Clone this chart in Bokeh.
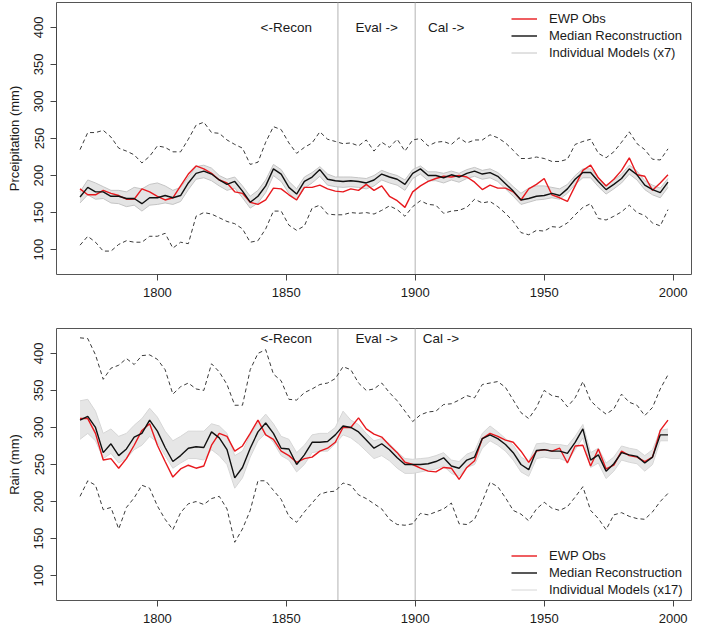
from bokeh.plotting import figure
from bokeh.models import Range1d, Span, Legend, LegendItem, FixedTicker
from bokeh.layouts import column
from bokeh.embed import file_html
from bokeh.resources import INLINE
from bokeh.core.properties import value

years = list(range(1770, 1999, 3))

# ---------- Panel 1: precipitation ----------
precip_obs = [182, 174, 174, 180, 176, 173, 168, 168, 182, 178, 172, 167, 170, 186, 202,
              213, 209, 203, 194, 190, 178, 176, 164, 161, 167, 183, 182, 174, 167, 184,
              184, 187, 182, 179,
              178, 182, 180, 188, 180, 186, 172, 166, 157, 178, 186, 192, 196, 199, 198,
              200, 198, 191, 181,
              187, 183, 183, 178, 167, 182, 188, 196, 174, 170, 165, 186, 207, 214, 197,
              186, 195, 207, 224, 201, 199, 180, 190, 201]
precip_median = [171, 184, 178, 178, 172, 172, 169, 169, 162, 170, 170, 173, 170, 173, 190,
                 203, 206, 202, 194, 188, 192, 179, 164, 172, 186, 209, 202, 184, 175, 192,
                 198, 208, 195, 193,
                 192, 193, 192, 190, 194, 202, 198, 195, 188, 203, 209, 200, 200, 197, 201,
                 198, 203, 206, 202,
                 204, 199, 189, 179, 167, 169, 172, 173, 176, 173, 182, 195, 204, 204, 192,
                 181, 188, 196, 209, 201, 187, 181, 177, 191]
precip_upper = [235, 258, 258, 261, 252, 237, 233, 228, 217, 226, 240, 238, 232, 232, 249,
                268, 272, 258, 257, 248, 242, 237, 215, 218, 245, 266, 262, 244, 230, 238,
                244, 259, 249, 246,
                243, 244, 240, 248, 233, 245, 238, 249, 233, 248, 250, 240, 245, 246, 242,
                251, 244, 248, 248,
                255, 251, 244, 234, 223, 223, 225, 223, 219, 219, 222, 242, 246, 249, 230,
                224, 232, 245, 259, 243, 235, 222, 221, 236]
precip_lower = [106, 118, 110, 98, 98, 107, 112, 110, 110, 118, 118, 122, 102, 110, 108,
                145, 150, 148, 143, 138, 135, 128, 110, 112, 128, 152, 152, 133, 126, 132,
                156, 160, 148, 147,
                147, 150, 149, 150, 148, 153, 159, 154, 145, 158, 166, 161, 160, 149, 152,
                153, 157, 168, 163,
                165, 158, 149, 138, 123, 120, 126, 125, 131, 130, 136, 147, 157, 162, 142,
                140, 145, 151, 160, 150, 146, 136, 132, 154]
precip_models_hi = [178, 194, 190, 185, 180, 180, 178, 184, 182, 188, 190, 186, 180, 184, 198,
                    212, 214, 210, 200, 195, 198, 186, 172, 180, 194, 215, 208, 192, 182, 198,
                    204, 212, 202, 198,
                    198, 198, 197, 196, 200, 207, 203, 200, 194, 208, 213, 205, 205, 203, 206,
                    203, 208, 211, 207,
                    209, 204, 195, 185, 176, 183, 186, 186, 184, 182, 188, 200, 209, 209, 197,
                    187, 194, 202, 214, 206, 193, 187, 183, 196]
precip_models_lo = [163, 174, 168, 169, 163, 162, 158, 160, 152, 160, 161, 163, 161, 165, 181,
                    195, 197, 193, 186, 180, 183, 170, 156, 163, 177, 200, 192, 176, 167, 183,
                    190, 199, 187, 185,
                    184, 185, 184, 182, 186, 194, 190, 187, 180, 196, 202, 193, 193, 190, 194,
                    191, 196, 199, 195,
                    197, 192, 182, 172, 161, 164, 167, 168, 170, 168, 176, 188, 197, 197, 185,
                    175, 182, 190, 202, 194, 181, 174, 170, 184]

# ---------- Panel 2: rain ----------
rain_obs = [312, 312, 292, 256, 258, 245, 258, 276, 296, 305, 276, 254, 233, 244, 249,
            245, 248, 276, 292, 288, 268, 275, 292, 310, 290, 284, 268, 262, 253, 258,
            260, 268, 272, 280,
            300, 300, 313, 298, 291, 287, 276, 266, 253, 250, 245, 241, 240, 246, 245,
            230, 246, 255, 285,
            292, 288, 283, 280, 268, 253, 268, 270, 268, 272, 252, 275, 276, 248, 271,
            244, 249, 268, 262, 260, 254, 260, 296, 310]
rain_median = [310, 315, 300, 266, 278, 262, 271, 287, 292, 310, 295, 273, 254, 262, 272,
               274, 273, 294, 286, 270, 232, 246, 272, 294, 306, 292, 272, 271, 250, 263,
               280, 280, 281, 290,
               302, 300, 294, 283, 272, 278, 270, 259, 250, 250, 250, 251, 254, 259, 248,
               245, 256, 260, 285,
               290, 285, 277, 266, 250, 243, 269, 270, 268, 268, 265, 280, 298, 256, 263,
               241, 251, 266, 263, 261, 252, 260, 290, 290]
rain_upper = [421, 420, 398, 365, 380, 384, 393, 385, 397, 398, 392, 378, 345, 355, 360,
              352, 350, 386, 375, 358, 330, 330, 378, 400, 405, 372, 363, 338, 337, 347,
              352, 358, 360, 366,
              382, 378, 360, 350, 352, 360, 347, 336, 322, 308, 317, 321, 322, 331, 332,
              337, 343, 340, 358,
              360, 362, 354, 337, 320, 312, 327, 350, 343, 341, 328, 340, 362, 336, 326,
              318, 325, 345, 334, 330, 316, 327, 352, 371]
rain_lower = [207, 228, 222, 189, 192, 163, 192, 205, 222, 218, 194, 176, 162, 185, 197,
              200, 196, 204, 207, 190, 145, 163, 188, 228, 228, 215, 203, 180, 172, 186,
              198, 210, 213, 214,
              225, 222, 209, 204, 197, 190, 176, 169, 168, 170, 184, 182, 186, 190, 198,
              170, 169, 176, 200,
              226, 220, 205, 188, 183, 174, 190, 199, 191, 188, 193, 206, 220, 188, 177,
              162, 182, 185, 180, 177, 176, 186, 200, 211]
rain_models_hi = [336, 338, 322, 292, 298, 288, 292, 303, 312, 326, 314, 295, 282, 288, 295,
                  295, 295, 305, 302, 292, 262, 268, 290, 306, 318, 305, 288, 284, 266, 276,
                  290, 292, 292, 300,
                  322, 310, 304, 292, 282, 285, 278, 267, 258, 257, 258, 259, 262, 266, 256,
                  254, 264, 268, 292,
                  302, 294, 285, 276, 260, 254, 278, 279, 277, 277, 275, 288, 304, 266, 272,
                  252, 260, 275, 272, 270, 262, 270, 296, 298]
rain_models_lo = [284, 292, 282, 258, 265, 252, 258, 270, 276, 288, 280, 262, 245, 252, 258,
                  258, 256, 270, 262, 250, 218, 232, 260, 282, 292, 280, 262, 256, 240, 250,
                  266, 268, 268, 278,
                  290, 286, 278, 268, 258, 262, 255, 245, 238, 238, 240, 242, 244, 248, 238,
                  234, 246, 250, 272,
                  282, 276, 268, 256, 240, 234, 258, 260, 258, 258, 254, 270, 286, 246, 252,
                  231, 241, 256, 253, 251, 241, 250, 282, 282]

x_ticks = [1800, 1850, 1900, 1950, 2000]
y_ticks = [100, 150, 200, 250, 300, 350, 400]
period_labels = ["<-Recon", "Eval ->", "Cal ->"]
period_bounds = [1870, 1900]

FONT = "Liberation Sans"


def make_panel(ylabel, obs, med, upper, lower, mhi, mlo, nmodels, height, btop, bbottom,
               label_x, label_y, legend_loc, band_fill, band_line):
    p = figure(width=693, height=height, output_backend="svg", toolbar_location=None,
               x_range=Range1d(1760.88, 2007.12), y_range=Range1d(66.4, 433.6),
               min_border_left=56, min_border_right=2, min_border_top=btop,
               min_border_bottom=bbottom)
    p.grid.visible = False
    p.outline_line_color = "#555555"
    p.outline_line_width = 1
    p.background_fill_color = "white"
    p.border_fill_color = "white"

    for loc in period_bounds:
        p.add_layout(Span(location=loc, dimension="height", line_color="#cccccc",
                          line_width=1.5, level="underlay"))

    p.varea(x=years, y1=mlo, y2=mhi, fill_color=band_fill)
    r_mod = p.line(years, mhi, line_color=band_line, line_width=1)
    p.line(years, mlo, line_color=band_line, line_width=1)

    p.line(years, upper, line_color="#3a3a3a", line_width=1, line_dash="4 3")
    p.line(years, lower, line_color="#3a3a3a", line_width=1, line_dash="4 3")

    r_obs = p.line(years, obs, line_color="#e8191e", line_width=1.4)
    r_med = p.line(years, med, line_color="#111111", line_width=1.4)

    p.text(x=label_x, y=[label_y] * 3, text=period_labels, text_font=value(FONT),
           text_font_size="13.5px", text_align="center", text_baseline="middle",
           text_color="#1a1a1a")

    for ax in (p.xaxis, p.yaxis):
        ax.axis_line_color = "#444444"
        ax.major_tick_line_color = "#444444"
        ax.major_tick_out = 6
        ax.major_tick_in = 0
        ax.minor_tick_out = 0
        ax.minor_tick_in = 0
        ax.major_label_text_font = FONT
        ax.major_label_text_font_size = "13px"
        ax.major_label_text_color = "#1a1a1a"
        ax.major_label_standoff = 7

    p.xaxis.ticker = FixedTicker(ticks=x_ticks)
    p.xaxis.bounds = (1800, 2000)
    p.yaxis.ticker = FixedTicker(ticks=y_ticks)
    p.yaxis.bounds = (100, 400)
    p.yaxis.major_label_orientation = "vertical"
    p.yaxis.axis_label = ylabel
    p.yaxis.axis_label_text_font = FONT
    p.yaxis.axis_label_text_font_size = "13px"
    p.yaxis.axis_label_text_font_style = "normal"
    p.yaxis.axis_label_text_color = "#1a1a1a"
    p.yaxis.axis_label_standoff = 10

    legend = Legend(items=[
        LegendItem(label="EWP Obs", renderers=[r_obs]),
        LegendItem(label="Median Reconstruction", renderers=[r_med]),
        LegendItem(label="Individual Models (x%d)" % nmodels, renderers=[r_mod]),
    ], location=legend_loc, padding=0, margin=0, spacing=0, glyph_width=26,
        glyph_height=17, label_height=17, label_standoff=12,
        label_text_font=FONT, label_text_font_size="13px", label_text_color="#1a1a1a",
        border_line_alpha=0, background_fill_alpha=0)
    p.add_layout(legend)
    return p


p1 = make_panel("Prceipitation (mm)", precip_obs, precip_median, precip_upper, precip_lower,
                precip_models_hi, precip_models_lo, 7, 308, 2, 34,
                [1850, 1885, 1912], 400, (455, 213), "#e4e4e4", "#c4c4c4")
p2 = make_panel("Rain (mm)", rain_obs, rain_median, rain_upper, rain_lower,
                rain_models_hi, rain_models_lo, 17, 320, 20, 28,
                [1850, 1885, 1910], 420, (455, 2), "#e6e6e6", "#d6d6d6")

layout = column(p1, p2, spacing=0)
open("out.html", "w").write(file_html(layout, INLINE))
